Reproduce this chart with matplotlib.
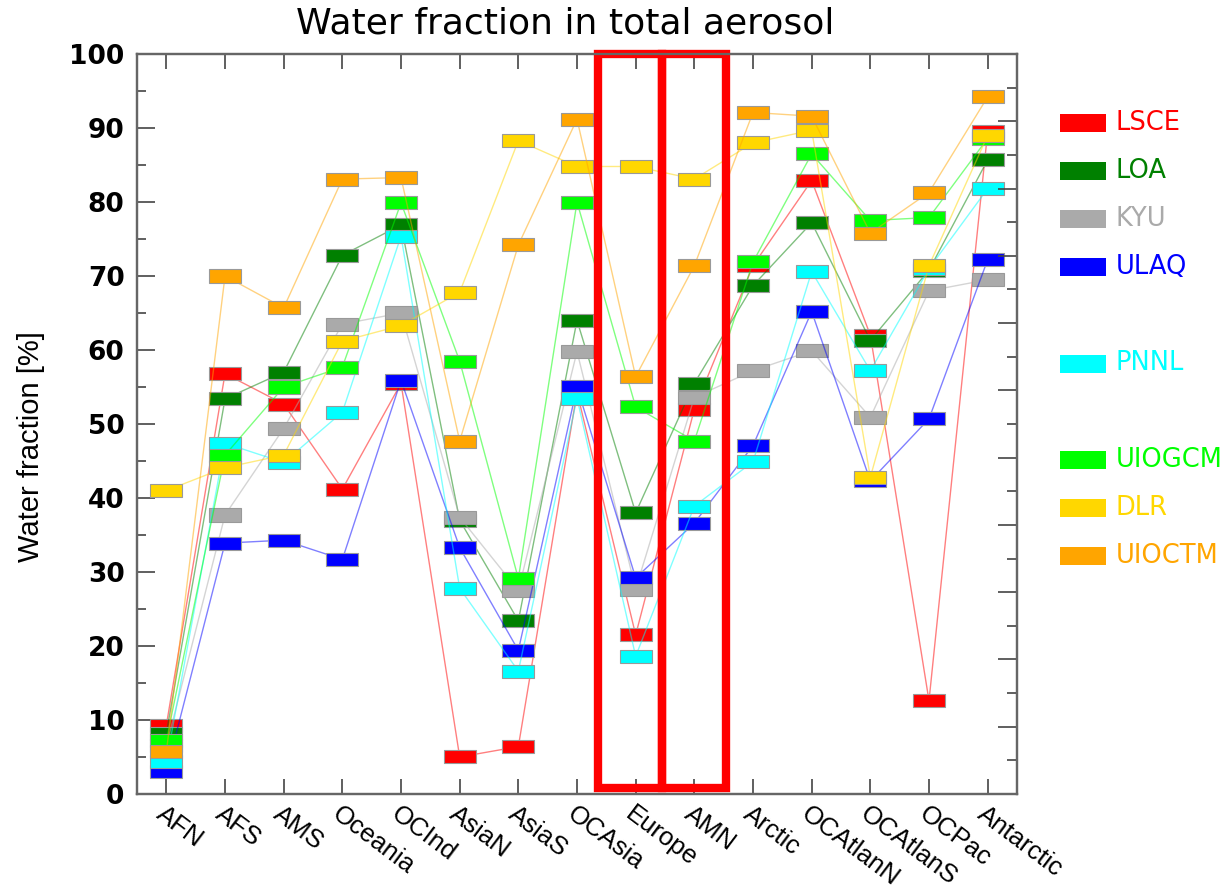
import matplotlib
matplotlib.use("Agg")
import matplotlib.pyplot as plt
from matplotlib.patches import Rectangle
from matplotlib.ticker import MultipleLocator

# регіони (вісь x)
regions = ["AFN", "AFS", "AMS", "Oceania", "OCInd", "AsiaN", "AsiaS", "OCAsia",
           "Europe", "AMN", "Arctic", "OCAtlanN", "OCAtlanS", "OCPac", "Antarctic"]

# частка води для кожної моделі, %
lsce = [9.3, 56.8, 52.7, 41.2, 55.5, 5.0, 6.4, 54.3, 21.5, 52.0, 71.4, 82.9, 62.0, 12.6, 89.5]
loa = [8.2, 53.4, 57.0, 72.8, 76.9, 37.0, 23.4, 64.0, 38.0, 55.5, 68.7, 77.2, 61.3, 70.8, 85.7]
kyu = [6.5, 37.7, 49.4, 63.5, 65.0, 37.4, 27.5, 59.8, 27.7, 53.6, 57.2, 59.9, 50.9, 68.0, 69.5]
ulaq = [3.0, 33.9, 34.3, 31.7, 55.9, 33.3, 19.4, 55.0, 29.2, 36.6, 47.1, 65.2, 42.3, 50.7, 72.2]
pnnl = [4.4, 47.4, 44.8, 51.6, 75.4, 27.8, 16.6, 53.5, 18.6, 38.9, 44.9, 70.6, 57.2, 71.0, 81.8]
uiogcm = [7.2, 45.8, 55.0, 57.7, 79.9, 58.5, 29.1, 80.0, 52.3, 47.7, 71.9, 86.5, 77.5, 77.9, 88.6]
dlr = [41.0, 44.1, 45.8, 61.2, 63.3, 67.8, 88.3, 84.8, 84.8, 83.1, 88.0, 89.7, 42.8, 71.4, 89.0]
uioctm = [5.7, 70.0, 65.7, 83.1, 83.3, 47.7, 74.2, 91.2, 56.4, 71.4, 92.1, 91.6, 75.8, 81.3, 94.2]

model_names = ["LSCE", "LOA", "KYU", "ULAQ", "PNNL", "UIOGCM", "DLR", "UIOCTM"]
model_values = [lsce, loa, kyu, ulaq, pnnl, uiogcm, dlr, uioctm]
model_colors = ["#ff0000", "#008000", "#aaaaaa", "#0000ff",
                "#00ffff", "#00ff00", "#ffd700", "#ffa500"]
legend_slots = [0, 1, 2, 3, 5, 7, 8, 9]  # порожні рядки між групами

highlight = ["Europe", "AMN"]  # регіони, обведені червоним

fig = plt.figure(figsize=(12.29, 8.90), dpi=100)
ax = fig.add_axes([0.1115, 0.1079, 0.716, 0.8314])

xs = list(range(1, len(regions) + 1))
box_w, box_h = 0.545, 1.76

# кожна модель: тонка лінія + прямокутні маркери
for i, (name, vals, col) in enumerate(zip(model_names, model_values, model_colors)):
    z = 3 + i
    ax.plot(xs, vals, color=col, lw=1.0, alpha=0.5, zorder=z)
    for x, v in zip(xs, vals):
        ax.add_patch(Rectangle((x - box_w / 2, v - box_h / 2), box_w, box_h,
                               facecolor=col, edgecolor="#999999", lw=0.8, zorder=z))

# червоні рамки навколо виділених регіонів (спільна середня стінка)
frame_w = 1.09
left = regions.index(highlight[0]) + 1 - 0.64
for k, name in enumerate(highlight):
    ax.add_patch(Rectangle((left + k * frame_w, 0.8), frame_w, 99.2, fill=False,
                           edgecolor="#ff0000", lw=6, clip_on=False, zorder=20))

ax.set_xlim(0.5, len(regions) + 0.5)
ax.set_ylim(0, 100)

ax.set_xticks(xs)
ax.set_xticklabels(regions, rotation=-37, ha="left", va="top",
                   rotation_mode="anchor", fontsize=18.5, family="Liberation Sans")
ax.tick_params(axis="x", direction="in", length=11, width=1.2, top=True,
               pad=6, color="#444444")
ax.yaxis.set_major_locator(MultipleLocator(10))
ax.yaxis.set_minor_locator(MultipleLocator(5))
ax.tick_params(axis="y", which="major", direction="in", length=13, width=1.2,
               pad=9, color="#444444")
ax.tick_params(axis="y", which="minor", direction="in", length=6.5, width=1.2,
               color="#444444")
for lab in ax.get_yticklabels():
    lab.set_fontsize(19)
    lab.set_fontweight("bold")

# права вісь має власну шкалу без підписів
ax2 = ax.twinx()
ax2.set_ylim(0, 22)
ax2.yaxis.set_major_locator(MultipleLocator(2))
ax2.yaxis.set_minor_locator(MultipleLocator(1))
ax2.tick_params(axis="y", which="major", direction="in", length=14, width=1.2,
                labelright=False, color="#444444")
ax2.tick_params(axis="y", which="minor", direction="in", length=7, width=1.2,
                color="#444444")

for a in (ax, ax2):
    for sp in a.spines.values():
        sp.set_color("#666666")
        sp.set_linewidth(1.6)

ax.set_ylabel("Water fraction [%]", fontsize=21, family="Liberation Sans")
ax.yaxis.set_label_coords(-0.105, 0.47)

fig.text(565 / 1229, 1 - 24 / 890, "Water fraction in total aerosol",
         ha="center", va="center", fontsize=26)

# легенда справа: кольоровий прямокутник і назва моделі тим самим кольором
for name, col, slot in zip(model_names, model_colors, legend_slots):
    yc = 123 + 48.1 * slot
    fig.add_artist(Rectangle((1060 / 1229, 1 - (yc + 9) / 890), 46 / 1229, 18 / 890,
                             transform=fig.transFigure, facecolor=col, edgecolor="none"))
    fig.text(1116 / 1229, 1 - yc / 890, name, color=col, fontsize=18.5,
             ha="left", va="center")

fig.savefig("out.png", dpi=100)
